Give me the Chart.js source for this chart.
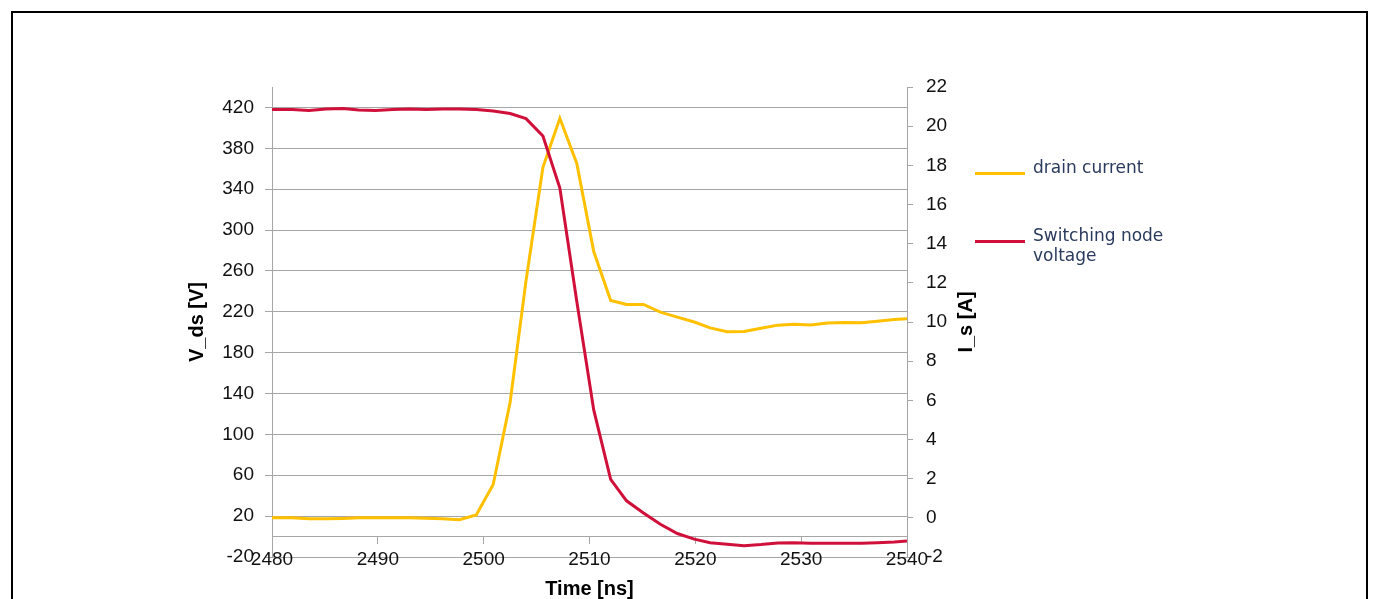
<!DOCTYPE html>
<html>
<head>
<meta charset="utf-8">
<script src="https://cdn.jsdelivr.net/npm/chart.js@4.4.0/dist/chart.umd.min.js"></script>
<style>
  html, body { margin: 0; padding: 0; background: #fff; }
  #wrap { position: relative; width: 1375px; height: 599px; overflow: hidden; }
  #frame { position: absolute; left: 11px; top: 11px; width: 1353px; height: 700px; border: 2px solid #000; }
  canvas { position: absolute; left: 0; top: 0; }
  #legend { position: absolute; left: 975px; top: 157px; font-family: 'DejaVu Sans', Verdana, sans-serif; font-size: 17px; line-height: 20px; color: #2a3a5c; }
  .item { display: flex; align-items: flex-start; margin-bottom: 48px; }
  .swatch { width: 50px; height: 3px; margin-top: 15px; margin-right: 8px; }
  .label { width: 150px; }
</style>
</head>
<body>
<div id="wrap">
  <div id="frame"></div>
  <canvas id="chart" width="1375" height="599"></canvas>
  <div id="legend"></div>
</div>
<script>
// time axis (ns)
const times = [2480, 2481.9, 2483.5, 2485.1, 2486.7, 2488.2, 2489.8, 2491.4, 2493.0, 2494.6,
  2496.1, 2497.7, 2499.3, 2500.9, 2502.5, 2504.0, 2505.6, 2507.2, 2508.8, 2510.4,
  2512.0, 2513.5, 2515.1, 2516.7, 2518.3, 2519.9, 2521.4, 2523.0, 2524.6, 2526.2,
  2527.8, 2529.3, 2530.9, 2532.5, 2534.1, 2535.7, 2537.2, 2538.8, 2540];

// drain current I_s [A]
const drainCurrent = [0.0, 0.0, -0.05, -0.05, -0.03, 0.0, 0.0, 0.0, 0.0, -0.02,
  -0.05, -0.1, 0.15, 1.7, 5.9, 12.1, 17.9, 20.4, 18.1, 13.6,
  11.1, 10.9, 10.9, 10.5, 10.25, 10.0, 9.7, 9.5, 9.52, 9.68,
  9.84, 9.88, 9.85, 9.95, 9.98, 9.96, 10.04, 10.13, 10.17];

// switching node voltage V_ds [V]
const nodeVoltage = [418, 418, 417, 418.5, 419, 417.5, 417, 418, 418.5, 418,
  418.5, 418.5, 418, 416.5, 414, 409, 392, 341, 230, 124,
  56, 35, 23, 12, 3, -2.5, -6, -7.6, -8.9, -7.8,
  -6.3, -6, -6.5, -6.6, -6.6, -6.6, -6.0, -5.3, -4.3];

const vdsTicks = [-20, 20, 60, 100, 140, 180, 220, 260, 300, 340, 380, 420];

const yellow = '#ffc000';
const red = '#d0103a';
const gridGray = '#a6a6a6';
const tickFont = { family: "'Liberation Sans', Arial, sans-serif", size: 19 };
const titleFont = { family: "'Liberation Sans', Arial, sans-serif", size: 20, weight: 'bold' };

const toPoints = (ys) => times.map((t, i) => ({ x: t, y: ys[i] }));

// right axis title (bottom-to-top) and x title under the plot
const extraTitles = {
  id: 'extraTitles',
  afterDraw(chart) {
    const s = chart.scales.yI;
    const area = chart.chartArea;
    const c = chart.ctx;
    c.save();
    c.font = 'bold 20px "Liberation Sans", Arial, sans-serif';
    c.fillStyle = '#000';
    c.textAlign = 'center';
    c.textBaseline = 'middle';
    c.fillText('Time [ns]', (area.left + area.right) / 2, area.bottom + 32);
    c.translate(s.right - 11, (area.top + area.bottom) / 2);
    c.rotate(-Math.PI / 2);
    c.fillText('I_s [A]', 0, 0);
    c.restore();
  }
};

const chart = new Chart(document.getElementById('chart'), {
  type: 'line',
  data: {
    datasets: [
      { label: 'drain current', data: toPoints(drainCurrent), yAxisID: 'yI',
        borderColor: yellow, backgroundColor: yellow, borderWidth: 3, pointRadius: 0, order: 1 },
      { label: 'Switching node voltage', data: toPoints(nodeVoltage), yAxisID: 'yV',
        borderColor: red, backgroundColor: red, borderWidth: 3, pointRadius: 0, order: 0 }
    ]
  },
  options: {
    responsive: false,
    animation: false,
    devicePixelRatio: 1,
    layout: { padding: { left: 185, top: 87, right: 398, bottom: 42 } },
    plugins: { legend: { display: false }, tooltip: { enabled: false } },
    scales: {
      x: {
        type: 'linear',
        position: { yV: 0 },
        min: 2480, max: 2540,
        ticks: { stepSize: 10, padding: 5, font: tickFont, color: '#111', maxRotation: 0,
                 callback: (v) => String(v) },
        grid: { drawOnChartArea: false, tickLength: 7, color: gridGray },
        border: { color: gridGray }
      },
      yV: {
        position: 'left',
        min: -20, max: 440,
        afterBuildTicks: (s) => { s.ticks = vdsTicks.map(v => ({ value: v })); },
        ticks: { padding: 11, font: tickFont, color: '#111' },
        grid: { color: gridGray, tickLength: 7 },
        border: { color: gridGray },
        title: { display: true, text: 'V_ds [V]', font: titleFont, color: '#000', padding: 0 },
        afterFit: (s) => { s.width = 87; }
      },
      yI: {
        position: 'right',
        min: -2, max: 22,
        ticks: { stepSize: 2, padding: 13, font: tickFont, color: '#111' },
        grid: { drawOnChartArea: false, tickLength: 6, color: gridGray },
        border: { color: gridGray },
        afterFit: (s) => { s.width = 70; }
      }
    }
  },
  plugins: [extraTitles]
});

// html legend built from the datasets
const legend = document.getElementById('legend');
chart.data.datasets.forEach(ds => {
  const item = document.createElement('div');
  item.className = 'item';
  const sw = document.createElement('div');
  sw.className = 'swatch';
  sw.style.background = ds.borderColor;
  const lb = document.createElement('div');
  lb.className = 'label';
  lb.textContent = ds.label;
  item.appendChild(sw);
  item.appendChild(lb);
  legend.appendChild(item);
});
</script>
</body>
</html>
